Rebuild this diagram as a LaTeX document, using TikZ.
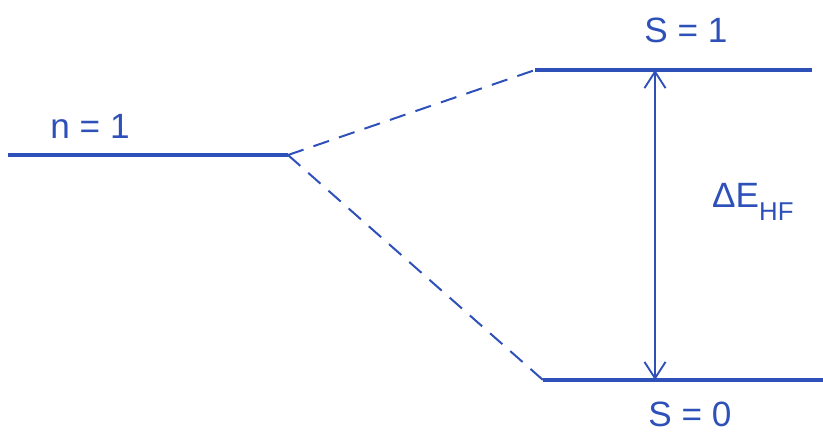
\documentclass[tikz,border=0pt]{standalone}
\usepackage{fontspec}
\setmainfont{Liberation Sans}
\usetikzlibrary{arrows.meta}
\definecolor{ink}{RGB}{45,80,185}

\begin{document}
\begin{tikzpicture}[x=0.03cm, y=-0.03cm,
    level/.style={draw=ink, line width=2.8pt},
    branch/.style={draw=ink, line width=1.7pt, dash pattern=on 14pt off 9pt},
    gap/.style={draw=ink, line width=1.6pt, {Straight Barb[length=14pt,width=18pt]}-{Straight Barb[length=14pt,width=18pt]}},
    tag/.style={text=ink, inner sep=0pt, font=\fontsize{30}{36}\selectfont}
  ]
  \useasboundingbox (0,0) rectangle (823,440);

  % energy levels
  \coordinate (nL) at (8,155);
  \coordinate (nR) at (288,155);
  \coordinate (tL) at (535,70);
  \coordinate (tR) at (812,70);
  \coordinate (sL) at (543,380);
  \coordinate (sR) at (823,380);
  \draw[level] (nL) -- (nR);
  \draw[level] (tL) -- (tR);
  \draw[level] (sL) -- (sR);

  % splitting
  \draw[branch] (nR) -- (tL);
  \draw[branch] (nR) -- (sL);

  % hyperfine gap
  \coordinate (top) at (655,70);
  \coordinate (bot) at (655,380);
  \draw[gap] (bot) -- (top);

  \node[tag] (n1) at (90,126) {n = 1};
  \node[tag] (s1) at (686,30) {S = 1};
  \node[tag] (s0) at (690,414) {S = 0};
  \node[tag, anchor=west] (dE) at (712,202) {ΔE\raisebox{-0.7ex}{\fontsize{22}{26}\selectfont HF}};
\end{tikzpicture}
\end{document}
